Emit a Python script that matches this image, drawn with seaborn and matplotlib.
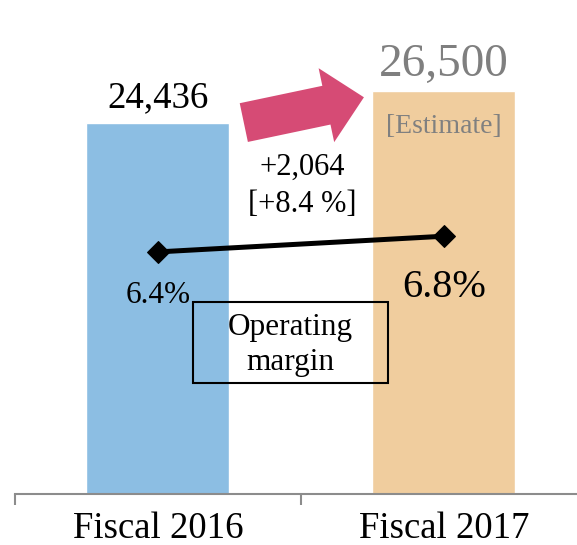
import numpy as np
import pandas as pd
import matplotlib
matplotlib.use("Agg")
import matplotlib.pyplot as plt
from matplotlib.patches import Rectangle
import seaborn as sns

# Chart data
years = ["Fiscal 2016", "Fiscal 2017"]
sales = [24436, 26500]
margins = [6.4, 6.8]

# Styles
bar_colors = ["#8CBEE3", "#F0CD9E"]
value_colors = ["black", "#7F7F7F"]
value_sizes = [26.5, 34]
margin_sizes = [22.5, 29]
margin_offsets = [-37, -44]
ARROW_COLOR = "#D64B75"
AXIS_GRAY = "#8C8C8C"

sns.set_style("white")
plt.rcParams["font.family"] = ["Liberation Serif", "DejaVu Serif"]
plt.rcParams["text.color"] = "black"
plt.rcParams["xtick.color"] = "black"

fig = plt.figure(figsize=(5.77, 5.45), dpi=100)
ax = fig.add_axes([15 / 577, 51 / 545, 572 / 577, 494 / 545])

df = pd.DataFrame({"year": years, "sales": sales})
sns.barplot(data=df, x="year", y="sales", hue="year", palette=bar_colors,
            width=0.5, saturation=1, legend=False, ax=ax)

ax.set_xlim(-0.5, 1.5)
ax.set_ylim(0, 32500)
ax.set_xlabel("")
ax.set_ylabel("")
ax.set_yticks([])
for side in ["left", "right", "top"]:
    ax.spines[side].set_visible(False)
ax.spines["bottom"].set_color(AXIS_GRAY)
ax.spines["bottom"].set_linewidth(1.5)
ax.set_xticks(range(len(years)), years)
ax.set_xticks([-0.5, 0.5, 1.5], minor=True)
ax.tick_params(axis="x", which="major", bottom=True, length=0, pad=12.5, labelsize=26.5, labelcolor="black")
ax.tick_params(axis="x", which="minor", bottom=True, length=8, width=1.5, color=AXIS_GRAY, direction="out")

# value labels above bars
for i, v in enumerate(sales):
    ax.annotate(f"{v:,}", xy=(i, v), xytext=(0, 11), textcoords="offset points",
                ha="center", va="baseline", fontsize=value_sizes[i], color=value_colors[i])
ax.annotate("[Estimate]", xy=(1, sales[1]), xytext=(0, -30), textcoords="offset points",
            ha="center", va="baseline", fontsize=20, color="#808080")

# growth arrow
ax.annotate("", xy=(0.72, sales[1] - 400), xytext=(0.30, sales[0]),
            arrowprops=dict(arrowstyle="simple,head_length=2.76,head_width=5.44,tail_width=2.85",
                            mutation_scale=10, color=ARROW_COLOR, lw=0, shrinkA=0, shrinkB=0))
diff = sales[1] - sales[0]
pct = diff / sales[0] * 100
ax.text(0.5026, 0.6457, f"+{diff:,}", transform=ax.transAxes, ha="center", va="baseline", fontsize=22)
ax.text(0.5026, 0.5715, f"[+{pct:.1f} %]", transform=ax.transAxes, ha="center", va="baseline", fontsize=22)

# operating margin box
ax.add_patch(Rectangle((0.3112, 0.2247), 0.3409, 0.164, transform=ax.transAxes,
                       fill=False, edgecolor="black", linewidth=1.5, zorder=3))
ax.text(0.4817, 0.3016, "Operating\nmargin", transform=ax.transAxes, ha="center", va="center",
        fontsize=22.5, linespacing=1.3, zorder=4)

# operating margin line
ax2 = ax.twinx()
sns.lineplot(x=np.arange(len(years)), y=margins, ax=ax2, color="black", linewidth=3.6,
             marker="D", markersize=11, markeredgecolor="black")
ax2.set_ylim(0.23, 12.82)
ax2.axis("off")
for i, m in enumerate(margins):
    ax2.annotate(f"{m}%", xy=(i, m), xytext=(0, margin_offsets[i]), textcoords="offset points",
                 ha="center", va="baseline", fontsize=margin_sizes[i])

fig.savefig("out.png", dpi=100)
